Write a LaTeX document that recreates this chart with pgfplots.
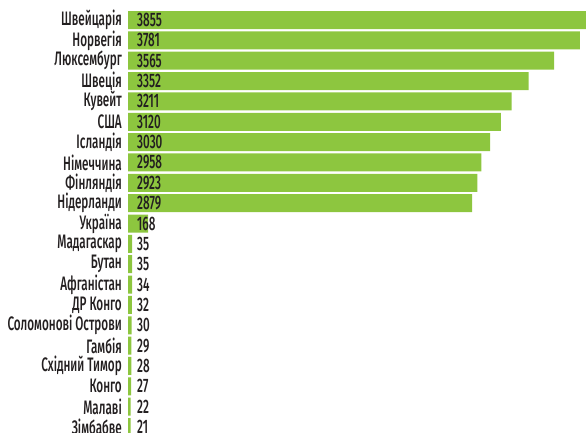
\documentclass[border=0pt]{standalone}
\usepackage{pgfplots}
\pgfplotsset{compat=1.18}
\usepackage{fontspec}
\setmainfont{Fira Sans Medium}[FakeStretch=0.6]
\definecolor{barGreen}{HTML}{8DC63F}
\definecolor{txt}{HTML}{231F20}

\begin{document}
\begin{tikzpicture}
\useasboundingbox (0,0) rectangle (586bp,-433bp);
\clip (0,0) rectangle (586bp,-433bp);
\begin{axis}[
    anchor=origin, at={(128bp,-20bp)},
    x=0.1195bp, y=20.35bp, y dir=reverse,
    xmin=0, xmax=3855, ymin=-0.5, ymax=20.5,
    axis x line=none, axis y line*=left,
    y axis line style={draw=none},
    major tick length=0pt,
    ytick={0,...,20},
    yticklabels={Швейцарія,Норвегія,Люксембург,Швеція,Кувейт,США,Ісландія,Німеччина,Фінляндія,Нідерланди,Україна,Мадагаскар,Бутан,Афганістан,ДР Конго,Соломонові Острови,Гамбія,Східний Тимор,Конго,Малаві,Зімбабве},
    yticklabel style={font=\fontsize{19.5bp}{21bp}\selectfont, text=txt, inner sep=0pt, anchor=east, xshift=-6bp},
    xbar, bar width=18bp, bar shift=0pt,
  ]
  \addplot[fill=barGreen, draw=none, bar shift=0pt] coordinates {
    (3855,0) (3781,1) (3565,2) (3352,3) (3211,4) (3120,5) (3030,6)
    (2958,7) (2923,8) (2879,9) (168,10) (35,11) (35,12) (34,13)
    (32,14) (30,15) (29,16) (28,17) (27,18) (22,19) (21,20)
  };
  \addplot[draw=none, fill=none, bar shift=0pt, point meta=explicit symbolic,
    nodes near coords={\pgfplotspointmeta},
    every node near coord/.append style={font=\fontsize{19.5bp}{21bp}\selectfont, text=txt, anchor=west, inner sep=0pt, xshift=9bp}]
    coordinates {
    (0,0) [3855] (0,1) [3781] (0,2) [3565] (0,3) [3352] (0,4) [3211]
    (0,5) [3120] (0,6) [3030] (0,7) [2958] (0,8) [2923] (0,9) [2879]
    (0,10) [168] (0,11) [35] (0,12) [35] (0,13) [34] (0,14) [32]
    (0,15) [30] (0,16) [29] (0,17) [28] (0,18) [27] (0,19) [22] (0,20) [21]
  };
\end{axis}
\end{tikzpicture}
\end{document}
